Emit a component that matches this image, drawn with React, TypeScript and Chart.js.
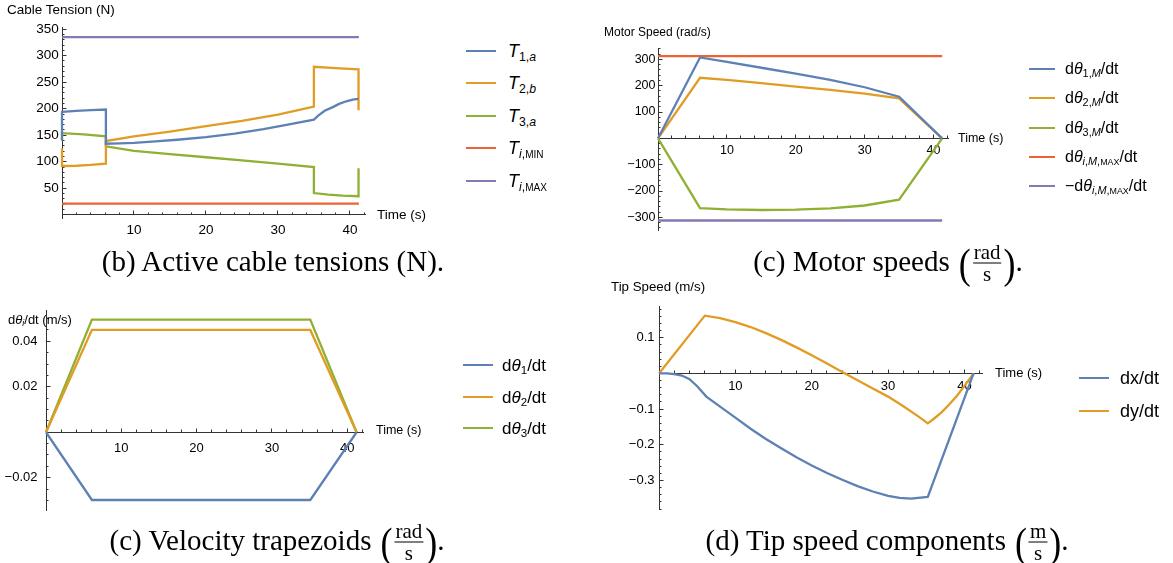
import React, { useEffect, useRef } from 'react';
import { Chart, registerables } from 'chart.js';

Chart.register(...registerables);

const BLUE = '#5E81B5';
const ORANGE = '#E19C24';
const GREEN = '#8FB032';
const RED = '#EB6235';
const PURPLE = '#8778B3';

// ---------- (b) Active cable tensions ----------
const tensT1 = [0, 0, 2, 4, 6.1, 6.1, 8, 10, 13, 16, 20, 24, 28, 31, 35, 35.6, 36.5, 37.7, 38.5, 39.5, 40.4, 41.2];
const tensV1 = [140, 194, 196, 197.5, 198.5, 134, 134.5, 135.5, 138.5, 141.5, 146.5, 153, 161.5, 169, 179.5, 187, 196, 203.5, 209, 214, 217, 218.5];
const tensT2 = [0, 0, 2, 4, 6.1, 6.1, 10, 15, 20, 25, 30, 35, 35, 38, 41.2, 41.2];
const tensV2 = [125, 92, 92.5, 94, 96.5, 139, 148, 157, 167, 177, 189, 204, 279, 276.5, 274, 197];
const tensT3 = [0, 0, 3, 6.1, 6.1, 10, 15, 20, 25, 30, 35, 35, 37, 39, 41.2, 41.2];
const tensV3 = [140, 154, 151.5, 148, 129, 120.5, 114.5, 108.5, 102.5, 96.5, 90, 41, 38, 36, 35, 88];
const tensLimT = [0, 41.25];
const tensMin = [21, 21];
const tensMax = [335, 335];
const tensXTicks = [0, 10, 20, 30, 40];
const tensXLabels = ['', '10', '20', '30', '40'];
const tensYTicks = [0, 50, 100, 150, 200, 250, 300, 350];
const tensYLabels = ['', '50', '100', '150', '200', '250', '300', '350'];

// ---------- (c) Motor speeds ----------
const motT = [0, 6.1, 10, 15, 20, 25, 30, 35, 41.25];
const motV1 = [0, 307, 290, 268, 246, 222, 194, 158, 0];
const motV2 = [0, 230, 222, 210, 196, 184, 170, 152, 0];
const motV3 = [0, -265, -270, -272, -271, -266, -255, -233, 0];
const motLimT = [0, 41.25];
const motMax = [312, 312];
const motMin = [-312, -312];
const motXTicks = [0, 10, 20, 30, 40];
const motXLabels = ['', '10', '20', '30', '40'];
const motYTicks = [-300, -200, -100, 0, 100, 200, 300];
const motYLabels = ['\u2212300', '\u2212200', '\u2212100', '', '100', '200', '300'];

// ---------- (c) Velocity trapezoids ----------
const velT = [0, 6.1, 35.1, 41.25];
const velV1 = [0, -0.0298, -0.0298, 0];
const velV2 = [0, 0.045, 0.045, 0];
const velV3 = [0, 0.0495, 0.0495, 0];
const velXTicks = [0, 10, 20, 30, 40];
const velXLabels = ['', '10', '20', '30', '40'];
const velYTicks = [-0.02, 0, 0.02, 0.04];
const velYLabels = ['\u22120.02', '', '0.02', '0.04'];

// ---------- (d) Tip speed components ----------
const tipTx = [0, 1, 2, 3, 4, 5, 6.2, 8, 10, 12, 14, 16, 18, 20, 22, 24, 26, 28, 30, 31.5, 33, 35.2, 41.2];
const tipVx = [0, 0, -0.002, -0.006, -0.016, -0.036, -0.065, -0.093, -0.124, -0.155, -0.184, -0.210, -0.235, -0.258, -0.279, -0.298, -0.316, -0.331, -0.343, -0.349, -0.351, -0.346, 0];
const tipTy = [0, 6.0, 8, 10, 12, 14, 16, 18, 20, 22, 24, 26, 28, 30, 32, 34, 35.2, 36, 37, 38, 39, 40, 41.2];
const tipVy = [0, 0.162, 0.155, 0.144, 0.130, 0.113, 0.094, 0.073, 0.051, 0.028, 0.004, -0.019, -0.042, -0.065, -0.092, -0.121, -0.140, -0.127, -0.109, -0.087, -0.063, -0.035, 0];
const tipXTicks = [0, 10, 20, 30, 40];
const tipXLabels = ['', '10', '20', '30', '40'];
const tipYTicks = [-0.3, -0.2, -0.1, 0, 0.1];
const tipYLabels = ['\u22120.3', '\u22120.2', '\u22120.1', '', '0.1'];

const SANS = "'Liberation Sans', Arial, Helvetica, sans-serif";
const SERIF = "'Liberation Serif', 'Times New Roman', serif";
const AXIS = '#333';
const PAD = { left: 70, top: 20, right: 20, bottom: 40 };
const YAXIS_W = 60;

type Series = { t: number[]; v: number[]; color: string };
type Spec = {
  area: { l: number; t: number; r: number; b: number };
  x: [number, number];
  y: [number, number];
  xTicks: number[];
  xLabels: string[];
  yTicks: number[];
  yLabels: string[];
  xMinor: number;
  yMinor: number;
  font: number;
  xPad: number;
  yPad: number;
  series: Series[];
};

function minorTicks(min: number, max: number, step: number) {
  const out: { value: number }[] = [];
  const start = Math.ceil(min / step - 1e-9);
  const end = Math.floor(max / step + 1e-9);
  for (let k = start; k <= end; k++) out.push({ value: k * step });
  return out;
}

function buildConfig(s: Spec): any {
  const font = { family: SANS, size: s.font };
  const majorGrid = { display: true, drawOnChartArea: false, drawTicks: true, tickLength: -4.5, tickColor: AXIS, tickWidth: 1 };
  const minorGrid = { display: true, drawOnChartArea: false, drawTicks: true, tickLength: -2.5, tickColor: AXIS, tickWidth: 1 };
  return {
    type: 'line',
    data: {
      datasets: s.series.map((sr) => ({
        data: sr.t.map((x, i) => ({ x, y: sr.v[i] })),
        borderColor: sr.color,
        backgroundColor: sr.color,
        borderWidth: 2.3,
        pointRadius: 0,
        tension: 0,
        fill: false,
        clip: false,
        xAxisID: 'x',
        yAxisID: 'y',
      })),
    },
    options: {
      animation: false,
      responsive: false,
      maintainAspectRatio: false,
      events: [],
      layout: { padding: { left: PAD.left - YAXIS_W, top: PAD.top, right: PAD.right, bottom: PAD.bottom } },
      plugins: { legend: { display: false }, tooltip: { enabled: false }, title: { display: false } },
      scales: {
        x: {
          type: 'linear',
          axis: 'x',
          position: { y: 0 },
          min: s.x[0],
          max: s.x[1],
          afterBuildTicks: (sc: any) => { sc.ticks = s.xTicks.map((v) => ({ value: v })); },
          ticks: { autoSkip: false, maxRotation: 0, minRotation: 0, padding: s.xPad, font, color: '#000', callback: (_v: any, i: number) => s.xLabels[i] },
          grid: majorGrid,
          border: { display: true, color: AXIS, width: 1 },
        },
        xm: {
          type: 'linear',
          axis: 'x',
          position: { y: 0 },
          min: s.x[0],
          max: s.x[1],
          afterBuildTicks: (sc: any) => { sc.ticks = minorTicks(s.x[0], s.x[1], s.xMinor); },
          ticks: { display: false, autoSkip: false },
          grid: minorGrid,
          border: { display: false },
        },
        y: {
          type: 'linear',
          axis: 'y',
          position: 'left',
          min: s.y[0],
          max: s.y[1],
          afterFit: (sc: any) => { sc.width = YAXIS_W; },
          afterBuildTicks: (sc: any) => { sc.ticks = s.yTicks.map((v) => ({ value: v })); },
          ticks: { autoSkip: false, padding: s.yPad, font, color: '#000', callback: (_v: any, i: number) => s.yLabels[i] },
          grid: majorGrid,
          border: { display: true, color: AXIS, width: 1 },
        },
        ym: {
          type: 'linear',
          axis: 'y',
          position: { x: 0 },
          min: s.y[0],
          max: s.y[1],
          afterBuildTicks: (sc: any) => { sc.ticks = minorTicks(s.y[0], s.y[1], s.yMinor); },
          ticks: { display: false, autoSkip: false },
          grid: minorGrid,
          border: { display: false },
        },
      },
    },
  };
}

function ChartPanel({ spec }: { spec: Spec }) {
  const ref = useRef<HTMLCanvasElement | null>(null);
  useEffect(() => {
    if (!ref.current) return;
    const chart = new Chart(ref.current, buildConfig(spec));
    return () => chart.destroy();
  }, []);
  const w = spec.area.r - spec.area.l + PAD.left + PAD.right;
  const h = spec.area.b - spec.area.t + PAD.top + PAD.bottom;
  return (
    <canvas
      ref={ref}
      width={w}
      height={h}
      style={{ position: 'absolute', left: spec.area.l - PAD.left, top: spec.area.t - PAD.top, width: w, height: h }}
    />
  );
}

const subSt: React.CSSProperties = { fontSize: '0.68em', verticalAlign: '-0.32em', lineHeight: 0 };
const capSt: React.CSSProperties = { fontSize: '0.82em' };

function Txt({ x, y, size, children, family }: { x: number; y: number; size: number; children: any; family?: string }) {
  return (
    <div
      style={{
        position: 'absolute', left: x, top: y, transform: 'translateY(-50%)', fontFamily: family || SANS,
        fontSize: size, lineHeight: 1, whiteSpace: 'nowrap', color: '#000',
      }}
    >
      {children}
    </div>
  );
}

function LegendItem({ x1, x2, tx, y, color, size, children }: any) {
  return (
    <>
      <div style={{ position: 'absolute', left: x1, top: y - 1, width: x2 - x1, height: 2.3, background: color }} />
      <Txt x={tx} y={y} size={size}>{children}</Txt>
    </>
  );
}

const parenSt: React.CSSProperties = { fontSize: 36, lineHeight: 1, display: 'inline-block', transform: 'scaleY(1.2)' };

function Frac({ n, d }: { n: string; d: string }) {
  return (
    <span style={{ display: 'inline-flex', alignItems: 'center', marginTop: 4, marginLeft: 9 }}>
      <span style={parenSt}>(</span>
      <span style={{ display: 'inline-flex', flexDirection: 'column', alignItems: 'center', fontSize: 21, lineHeight: '19px', margin: '0 2px' }}>
        <span style={{ borderBottom: '1px solid #000', padding: '0 1px 1px' }}>{n}</span>
        <span style={{ paddingTop: 1 }}>{d}</span>
      </span>
      <span style={parenSt}>)</span>
    </span>
  );
}

function Caption({ cx, cy, children }: { cx: number; cy: number; children: any }) {
  return (
    <div
      style={{
        position: 'absolute', left: cx, top: cy, transform: 'translate(-50%, -50%)', fontFamily: SERIF,
        fontSize: 29, lineHeight: 1, whiteSpace: 'pre', color: '#000', display: 'flex', alignItems: 'center',
      }}
    >
      {children}
    </div>
  );
}

const tensionSpec: Spec = {
  area: { l: 62, t: 27, r: 365, b: 218 },
  x: [0, 42.1],
  y: [-6, 354],
  xTicks: tensXTicks,
  xLabels: tensXLabels,
  yTicks: tensYTicks,
  yLabels: tensYLabels,
  xMinor: 2,
  yMinor: 10,
  font: 13.5,
  xPad: 12,
  yPad: 7.7,
  series: [
    { t: tensT1, v: tensV1, color: BLUE },
    { t: tensT2, v: tensV2, color: ORANGE },
    { t: tensT3, v: tensV3, color: GREEN },
    { t: tensLimT, v: tensMin, color: RED },
    { t: tensLimT, v: tensMax, color: PURPLE },
  ],
};

const motorSpec: Spec = {
  area: { l: 658, t: 48, r: 948, b: 230 },
  x: [0, 42.1],
  y: [-348, 343],
  xTicks: motXTicks,
  xLabels: motXLabels,
  yTicks: motYTicks,
  yLabels: motYLabels,
  xMinor: 2,
  yMinor: 20,
  font: 12.5,
  xPad: 9,
  yPad: 7,
  series: [
    { t: motT, v: motV1, color: BLUE },
    { t: motT, v: motV2, color: ORANGE },
    { t: motT, v: motV3, color: GREEN },
    { t: motLimT, v: motMax, color: RED },
    { t: motLimT, v: motMin, color: PURPLE },
  ],
};

const velSpec: Spec = {
  area: { l: 46, t: 310, r: 363, b: 510 },
  x: [0, 42.1],
  y: [-0.0342, 0.0534],
  xTicks: velXTicks,
  xLabels: velXLabels,
  yTicks: velYTicks,
  yLabels: velYLabels,
  xMinor: 2,
  yMinor: 0.005,
  font: 13,
  xPad: 12.5,
  yPad: 13,
  series: [
    { t: velT, v: velV1, color: BLUE },
    { t: velT, v: velV2, color: ORANGE },
    { t: velT, v: velV3, color: GREEN },
  ],
};

const tipSpec: Spec = {
  area: { l: 659, t: 306, r: 982, b: 509 },
  x: [0, 42.3],
  y: [-0.38, 0.189],
  xTicks: tipXTicks,
  xLabels: tipXLabels,
  yTicks: tipYTicks,
  yLabels: tipYLabels,
  xMinor: 2,
  yMinor: 0.02,
  font: 13,
  xPad: 9.5,
  yPad: 9,
  series: [
    { t: tipTx, v: tipVx, color: BLUE },
    { t: tipTy, v: tipVy, color: ORANGE },
  ],
};

export default function App() {
  return (
    <div style={{ position: 'absolute', left: 0, top: 0, width: 1173, height: 563, background: '#fff', overflow: 'hidden' }}>
      <ChartPanel spec={tensionSpec} />
      <ChartPanel spec={motorSpec} />
      <ChartPanel spec={velSpec} />
      <ChartPanel spec={tipSpec} />

      {/* (b) */}
      <Txt x={7} y={10} size={13.5}>Cable Tension (N)</Txt>
      <Txt x={377} y={215} size={13.5}>Time (s)</Txt>
      <LegendItem x1={466} x2={496} tx={508} y={51} color={BLUE} size={18}><i>T</i><span style={subSt}>1,<i>a</i></span></LegendItem>
      <LegendItem x1={466} x2={496} tx={508} y={83} color={ORANGE} size={18}><i>T</i><span style={subSt}>2,<i>b</i></span></LegendItem>
      <LegendItem x1={466} x2={496} tx={508} y={116} color={GREEN} size={18}><i>T</i><span style={subSt}>3,<i>a</i></span></LegendItem>
      <LegendItem x1={466} x2={496} tx={508} y={148} color={RED} size={18}><i>T</i><span style={subSt}><i>i</i>,<span style={capSt}>MIN</span></span></LegendItem>
      <LegendItem x1={466} x2={496} tx={508} y={181} color={PURPLE} size={18}><i>T</i><span style={subSt}><i>i</i>,<span style={capSt}>MAX</span></span></LegendItem>
      <Caption cx={273} cy={261}>{'(b) Active cable tensions (N).'}</Caption>

      {/* (c) motor */}
      <Txt x={604} y={32} size={12}>Motor Speed (rad/s)</Txt>
      <Txt x={958} y={138} size={12.5}>Time (s)</Txt>
      <LegendItem x1={1029} x2={1055} tx={1065} y={69} color={BLUE} size={16}>d<i>θ</i><span style={subSt}>1,<i>M</i></span>/dt</LegendItem>
      <LegendItem x1={1029} x2={1055} tx={1065} y={98} color={ORANGE} size={16}>d<i>θ</i><span style={subSt}>2,<i>M</i></span>/dt</LegendItem>
      <LegendItem x1={1029} x2={1055} tx={1065} y={128} color={GREEN} size={16}>d<i>θ</i><span style={subSt}>3,<i>M</i></span>/dt</LegendItem>
      <LegendItem x1={1029} x2={1055} tx={1065} y={157} color={RED} size={16}>d<i>θ</i><span style={subSt}><i>i</i>,<i>M</i>,<span style={capSt}>MAX</span></span>/dt</LegendItem>
      <LegendItem x1={1029} x2={1055} tx={1065} y={186} color={PURPLE} size={16}>−d<i>θ</i><span style={subSt}><i>i</i>,<i>M</i>,<span style={capSt}>MAX</span></span>/dt</LegendItem>
      <Caption cx={888} cy={261}>{'(c) Motor speeds'}<Frac n="rad" d="s" />{'.'}</Caption>

      {/* (c) velocity */}
      <Txt x={8} y={319} size={13}>d<i>θ</i><span style={subSt}><i>i</i></span>/dt (m/s)</Txt>
      <Txt x={376} y={430} size={12.5}>Time (s)</Txt>
      <LegendItem x1={463} x2={493} tx={502} y={365} color={BLUE} size={17}>d<i>θ</i><span style={subSt}>1</span>/dt</LegendItem>
      <LegendItem x1={463} x2={493} tx={502} y={397} color={ORANGE} size={17}>d<i>θ</i><span style={subSt}>2</span>/dt</LegendItem>
      <LegendItem x1={463} x2={493} tx={502} y={428} color={GREEN} size={17}>d<i>θ</i><span style={subSt}>3</span>/dt</LegendItem>
      <Caption cx={277} cy={540}>{'(c) Velocity trapezoids'}<Frac n="rad" d="s" />{'.'}</Caption>

      {/* (d) tip */}
      <Txt x={611} y={287} size={13.3}>Tip Speed (m/s)</Txt>
      <Txt x={995} y={372} size={13}>Time (s)</Txt>
      <LegendItem x1={1079} x2={1109} tx={1120} y={378} color={BLUE} size={18}>dx/dt</LegendItem>
      <LegendItem x1={1079} x2={1109} tx={1120} y={411} color={ORANGE} size={18}>dy/dt</LegendItem>
      <Caption cx={887} cy={540}>{'(d) Tip speed components'}<Frac n="m" d="s" />{'.'}</Caption>
    </div>
  );
}
